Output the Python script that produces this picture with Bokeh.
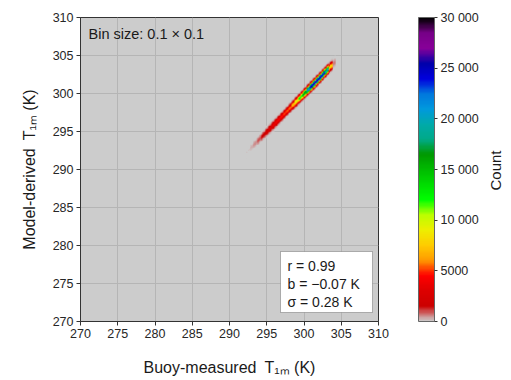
import numpy as np
from bokeh.plotting import figure
from bokeh.models import (Range1d, LinearColorMapper, ColorBar, FixedTicker, Label,
                          BoxAnnotation)
from bokeh.embed import file_html
from bokeh.resources import INLINE

# ---------------- data ----------------
# Along the 1:1 line: buoy temperature (K) and peak count per 0.1 x 0.1 bin
diag_buoy_t = [292.5, 293.0, 293.5, 294.0, 294.5, 295.0, 295.5, 296.0,
               296.5, 297.0, 297.5, 298.0, 298.5, 299.0, 299.5, 300.0,
               300.5, 301.0, 301.5, 302.0, 302.5, 303.0, 303.5, 304.0]
diag_peak_count = [120, 260, 520, 1000, 1700, 2500, 3200, 3800,
                   4300, 4800, 5200, 5700, 7000, 9500, 12500, 17000,
                   22000, 25500, 26500, 26000, 25000, 21000, 8000, 700]
# Cross-section of the band (model bins relative to the line) and relative weight
cross_offset_bins = [-8, -7, -6, -5, -4, -3, -2, -1, 0, 1, 2, 3, 4, 5, 6, 7, 8]
cross_weight = [0.015, 0.04, 0.1, 0.2, 0.36, 0.56, 0.78, 0.94, 1.0,
                0.94, 0.78, 0.56, 0.36, 0.2, 0.1, 0.04, 0.015]
bias_k = -0.07
bin_size = 0.1

axis_ticks = [270, 275, 280, 285, 290, 295, 300, 305, 310]
cbar_ticks = [0, 5000, 10000, 15000, 20000, 25000, 30000]
cbar_tick_labels = ["0", "5000", "10 000", "15 000", "20 000", "25 000", "30 000"]
stats_lines = ["r = 0.99", "b = \u22120.07 K", "\u03c3 = 0.28 K"]
bin_text = "Bin size: 0.1 \u00d7 0.1"
x_title = "Buoy-measured\u2002T\u2081\u2098 (K)"
y_title = "Model-derived\u2002T\u2081\u2098 (K)"
cbar_title = "Count"

FONT = "Liberation Sans"
TXT = "#1a1a1a"

# ---------------- 2D histogram grid ----------------
x0, nx = 292.25, 120
y0, ny = 291.0, 140
grid = np.zeros((ny, nx))
anchors = np.array(diag_buoy_t)
for i in range(nx):
    xc = x0 + (i + 0.5) * bin_size
    a = int(np.argmin(np.abs(anchors - xc)))
    peak = diag_peak_count[a]
    jc = int(np.floor((xc + bias_k - y0) / bin_size))
    for k, w in zip(cross_offset_bins, cross_weight):
        j = jc + k
        if 0 <= j < ny:
            grid[j, i] = peak * w
grid[grid <= 0] = np.nan

# ---------------- nipy_spectral (reversed) palette ----------------
_ns = {
    'red': [(0.0, 0.0), (0.05, 0.4667), (0.10, 0.5333), (0.15, 0.0), (0.20, 0.0),
            (0.25, 0.0), (0.30, 0.0), (0.35, 0.0), (0.40, 0.0), (0.45, 0.0),
            (0.50, 0.0), (0.55, 0.0), (0.60, 0.0), (0.65, 0.7333), (0.70, 0.9333),
            (0.75, 1.0), (0.80, 1.0), (0.85, 1.0), (0.90, 0.8667), (0.95, 0.80),
            (1.0, 0.80)],
    'green': [(0.0, 0.0), (0.05, 0.0), (0.10, 0.0), (0.15, 0.0), (0.20, 0.0),
              (0.25, 0.4667), (0.30, 0.6000), (0.35, 0.6667), (0.40, 0.6667),
              (0.45, 0.6000), (0.50, 0.7333), (0.55, 0.8667), (0.60, 1.0),
              (0.65, 1.0), (0.70, 0.9333), (0.75, 0.8000), (0.80, 0.6000),
              (0.85, 0.0), (0.90, 0.0), (0.95, 0.0), (1.0, 0.80)],
    'blue': [(0.0, 0.0), (0.05, 0.5333), (0.10, 0.6000), (0.15, 0.6667),
             (0.20, 0.8667), (0.25, 0.8667), (0.30, 0.8667), (0.35, 0.6667),
             (0.40, 0.5333), (0.45, 0.0), (0.5, 0.0), (0.55, 0.0), (0.60, 0.0),
             (0.65, 0.0), (0.70, 0.0), (0.75, 0.0), (0.80, 0.0), (0.85, 0.0),
             (0.90, 0.0), (0.95, 0.0), (1.0, 0.80)],
}
ts = np.linspace(0, 1, 256)
chans = {}
for ch, pts in _ns.items():
    chans[ch] = np.interp(ts, [q[0] for q in pts], [q[1] for q in pts])
palette = ["#%02x%02x%02x" % (int(round(r * 255)), int(round(g * 255)), int(round(b * 255)))
           for r, g, b in zip(chans['red'], chans['green'], chans['blue'])][::-1]

mapper = LinearColorMapper(palette=palette, low=0, high=30000, nan_color=(0, 0, 0, 0))

# ---------------- figure ----------------
p = figure(width=511, height=380, output_backend="svg", toolbar_location=None,
           x_range=Range1d(270, 310), y_range=Range1d(270, 310),
           min_border_left=80, min_border_right=133, min_border_top=17, min_border_bottom=59)
p.background_fill_color = "#cccccc"
p.border_fill_color = "white"
p.outline_line_color = "#333333"
p.outline_line_width = 1

p.image(image=[grid], x=x0, y=y0, dw=nx * bin_size, dh=ny * bin_size, color_mapper=mapper)

for ax in (p.xaxis[0], p.yaxis[0]):
    ax.ticker = FixedTicker(ticks=axis_ticks)
    ax.minor_tick_line_color = None
    ax.major_tick_in = 0
    ax.major_tick_out = 4
    ax.major_tick_line_color = "#333333"
    ax.axis_line_color = "#333333"
    ax.major_label_text_font = FONT
    ax.major_label_text_font_size = "12.5px"
    ax.major_label_text_color = "#262626"
    ax.major_label_standoff = 3
    ax.axis_label_text_font = FONT
    ax.axis_label_text_font_size = "16px"
    ax.axis_label_text_font_style = "normal"
    ax.axis_label_text_color = TXT
p.xaxis[0].axis_label = x_title
p.xaxis[0].axis_label_standoff = 18
p.yaxis[0].axis_label = y_title
p.yaxis[0].axis_label_standoff = 12

p.xgrid.ticker = FixedTicker(ticks=axis_ticks)
p.ygrid.ticker = FixedTicker(ticks=axis_ticks)
p.grid.grid_line_color = "#b5b5b5"
p.grid.grid_line_width = 1

cb = ColorBar(color_mapper=mapper, ticker=FixedTicker(ticks=cbar_ticks),
              major_label_overrides={t: l for t, l in zip(cbar_ticks, cbar_tick_labels)},
              width=16, height=304, location=(40, 0), padding=0, margin=0,
              border_line_color=None, background_fill_alpha=0,
              bar_line_color="#666666", major_tick_line_color="#333333",
              major_tick_in=0, major_tick_out=3, minor_tick_line_color=None,
              label_standoff=3, major_label_text_font=FONT,
              major_label_text_font_size="12.5px", major_label_text_color="#262626")
p.add_layout(cb, "right")

# colour-bar title, placed in the right-hand panel (x relative to that panel)
p.add_layout(Label(x=14, y=151, x_units="screen", y_units="screen", text=cbar_title,
                   text_font=FONT, text_font_size="15px", angle=np.pi / 2,
                   text_align="center", text_baseline="middle", text_color=TXT), "right")


def lab(text, x, y, size, angle=0.0, align="left"):
    p.add_layout(Label(x=x, y=y, x_units="screen", y_units="screen", text=text,
                       text_font=FONT, text_font_size=size, angle=angle,
                       text_align=align, text_baseline="middle", text_color=TXT))


# bin size text
lab(bin_text, 8, 288, "14.5px")

# stats box
p.add_layout(BoxAnnotation(left=200, right=292, top=70, bottom=9,
                           left_units="screen", right_units="screen",
                           top_units="screen", bottom_units="screen",
                           fill_color="white", fill_alpha=1.0,
                           line_color="#222222", line_width=1))
for s, yy in zip(stats_lines, [56, 38, 20]):
    lab(s, 207, yy, "14px")

open("out.html", "w").write(file_html(p, INLINE))
